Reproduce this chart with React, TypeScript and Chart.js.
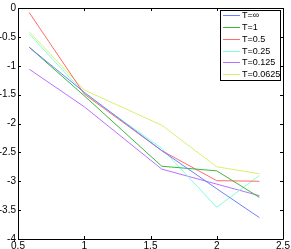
import React, { useEffect, useRef } from "react";
import { Chart, registerables } from "chart.js";

Chart.register(...registerables);

const xValues = [0.585, 1.0, 1.585, 2.0, 2.322];
const seriesLabels = ["T=∞", "T=1", "T=0.5", "T=0.25", "T=0.125", "T=0.0625"];
const tInf = [-0.68, -1.46, -2.47, -3.13, -3.63];
const t1 = [-0.68, -1.52, -2.74, -2.82, -3.28];
const t05 = [-0.08, -1.49, -2.47, -2.99, -3.0];
const t025 = [-0.45, -1.48, -2.43, -3.45, -2.9];
const t0125 = [-1.06, -1.71, -2.79, -3.05, -3.25];
const t00625 = [-0.41, -1.42, -2.03, -2.75, -2.87];
const seriesColors = ["#6f7fff", "#3cb83c", "#ff6b6b", "#7fffd8", "#bb70ff", "#d8f070"];
const xTicks = [0.5, 1, 1.5, 2, 2.5];
const yTicks = [0, -0.5, -1, -1.5, -2, -2.5, -3, -3.5, -4];

const FONT = "'Liberation Sans', Arial, sans-serif";

const boxPlugin = {
  id: "matlabBox",
  afterDraw(chart: any) {
    const { ctx, chartArea } = chart;
    const { left, right, top, bottom } = chartArea;
    const xs = chart.scales.x;
    const ys = chart.scales.y;
    ctx.save();
    ctx.strokeStyle = "#000";
    ctx.lineWidth = 1;
    ctx.beginPath();
    ctx.rect(Math.round(left) + 0.5, Math.round(top) + 0.5, Math.round(right - left), Math.round(bottom - top));
    ctx.stroke();
    const tl = 3;
    ctx.beginPath();
    xTicks.forEach((v) => {
      const px = Math.round(xs.getPixelForValue(v)) + 0.5;
      ctx.moveTo(px, bottom);
      ctx.lineTo(px, bottom - tl);
      ctx.moveTo(px, top);
      ctx.lineTo(px, top + tl);
    });
    yTicks.forEach((v) => {
      const py = Math.round(ys.getPixelForValue(v)) + 0.5;
      ctx.moveTo(left, py);
      ctx.lineTo(left + tl, py);
      ctx.moveTo(right, py);
      ctx.lineTo(right - tl, py);
    });
    ctx.stroke();

    // legend
    const lx = 220.5, ly = 10.5, lw = 60, lh = 70;
    ctx.fillStyle = "#fff";
    ctx.fillRect(lx, ly, lw, lh);
    ctx.strokeStyle = "#000";
    ctx.strokeRect(lx, ly, lw, lh);
    ctx.font = `9px ${FONT}`;
    ctx.textBaseline = "middle";
    ctx.textAlign = "left";
    const rowY = [15, 27, 39, 50.5, 62, 73.5];
    seriesLabels.forEach((lab, i) => {
      const y = Math.round(rowY[i]) + 0.5;
      ctx.strokeStyle = seriesColors[i];
      ctx.beginPath();
      ctx.moveTo(223, y);
      ctx.lineTo(240, y);
      ctx.stroke();
      ctx.fillStyle = "#000";
      ctx.fillText(lab, 242, y);
    });
    ctx.restore();
  },
};

export default function App() {
  const ref = useRef<HTMLCanvasElement>(null);
  useEffect(() => {
    document.body.style.margin = "0";
    const all = [tInf, t1, t05, t025, t0125, t00625];
    const chart = new Chart(ref.current as HTMLCanvasElement, {
      type: "line",
      data: {
        datasets: all.map((vals, i) => ({
          label: seriesLabels[i],
          data: vals.map((y, j) => ({ x: xValues[j], y })),
          borderColor: seriesColors[i],
          borderWidth: 1,
          pointRadius: 0,
          tension: 0,
          fill: false,
        })),
      },
      options: {
        animation: false,
        responsive: false,
        events: [],
        layout: { padding: { top: 7, right: 8, bottom: 0, left: 0 } },
        plugins: { legend: { display: false }, tooltip: { enabled: false } },
        scales: {
          x: {
            type: "linear",
            min: 0.5,
            max: 2.5,
            border: { display: false },
            grid: { display: false, drawTicks: false },
            afterBuildTicks: (s: any) => {
              s.ticks = xTicks.map((v) => ({ value: v }));
            },
            afterFit: (s: any) => {
              s.height = 10;
            },
            ticks: {
              padding: 1,
              color: "#000",
              font: { family: FONT, size: 10 },
              maxRotation: 0,
              autoSkip: false,
              callback: (v: any) => String(v),
            },
          },
          y: {
            type: "linear",
            min: -4,
            max: 0,
            border: { display: false },
            grid: { display: false, drawTicks: false },
            afterBuildTicks: (s: any) => {
              s.ticks = yTicks.map((v) => ({ value: v }));
            },
            afterFit: (s: any) => {
              s.width = 18;
            },
            ticks: {
              padding: 2,
              color: "#000",
              font: { family: FONT, size: 10 },
              autoSkip: false,
              callback: (v: any) => String(v),
            },
          },
        },
      },
      plugins: [boxPlugin],
    });
    return () => chart.destroy();
  }, []);
  return (
    <div style={{ width: 291, height: 249, position: "relative", background: "#fff" }}>
      <canvas ref={ref} width={291} height={249} style={{ display: "block" }} />
    </div>
  );
}
